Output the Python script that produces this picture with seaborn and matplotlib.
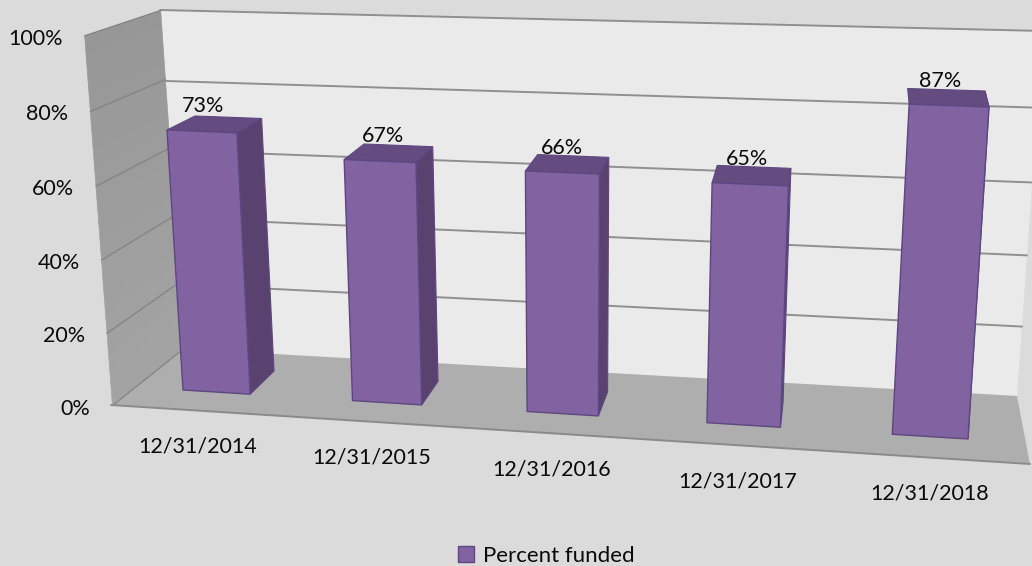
import numpy as np
import pandas as pd
import matplotlib
matplotlib.use("Agg")
import matplotlib.pyplot as plt
import seaborn as sns
from matplotlib.transforms import Transform
from matplotlib.patches import Polygon, Rectangle

# ---- data ----
DATES = ["12/31/2014", "12/31/2015", "12/31/2016", "12/31/2017", "12/31/2018"]
PERCENT_FUNDED = [73, 67, 66, 65, 87]
Z_TICKS = [0, 20, 40, 60, 80, 100]
SERIES = "Percent funded"

# ---- style ----
W, H = 1032, 566
BG, WALL, FLOOR = "#dbdbdb", "#eaeaea", "#aeaeae"
GRID, FACE, TOP, SIDE, EDGE = "#8f8f8f", "#8163a2", "#644c80", "#5a4270", "#5e4780"
BAR_W = 0.40
XMIN, XMAX = -0.5, 4.5
FS = 15.5
LABEL_DX = [1, 3, 0, -3, -9]


# ---- camera: each plane of the 3-D box is a homography onto the picture ----
def homography(world, pixels):
    rows = []
    for (u, v), (x, y) in zip(world, pixels):
        rows.append([u, v, 1, 0, 0, 0, -x * u, -x * v, -x])
        rows.append([0, 0, 0, u, v, 1, -y * u, -y * v, -y])
    A = np.array(rows, float)
    scale = np.abs(A).max(axis=0)
    _, _, vt = np.linalg.svd(A / scale)
    return (vt[-1] / scale).reshape(3, 3)


class Plane(Transform):
    input_dims = output_dims = 2
    is_affine = False
    has_inverse = False

    def __init__(self, world, pixels):
        super().__init__()
        self.m = homography(world, pixels)

    def transform_non_affine(self, values):
        v = np.atleast_2d(np.asarray(values, float))
        q = np.c_[v, np.ones(len(v))] @ self.m.T
        return np.c_[q[:, 0] / q[:, 2], H - q[:, 1] / q[:, 2]]


hw = BAR_W / 2
back_wall = Plane([(XMIN, 100), (XMAX, 100), (XMAX, 0), (XMIN, 0)],
                  [(160, 10), (1043, 31), (1017, 396), (185, 349)])
left_wall = Plane([(0, 0), (0, 40), (0, 80), (0, 100), (1, 0), (1, 40), (1, 80), (1, 100)],
                  [(111, 405), (102, 261), (91, 112), (85, 35),
                   (185, 349), (175, 214), (165, 81), (160, 10)])
floor = Plane([(XMIN, 0), (XMAX, 0), (XMAX, 1), (XMIN, 1)],
              [(111, 405), (1030, 464), (1017, 396), (185, 349)])
date_row = Plane([(0, 0), (2, 0), (4, 0), (0, 1), (4, 1)],
                 [(197.5, 447.5), (551.5, 469), (930, 493), (216.5, 391.5), (929, 436.5)])
bar_front = Plane([(-hw, 0), (4 + hw, 0), (4 + hw, PERCENT_FUNDED[4]), (-hw, PERCENT_FUNDED[0])],
                  [(183, 390), (968, 439), (989, 107), (167, 130)])
bar_back = Plane([(hw, 0), (3 + hw, 0), (4 + hw, PERCENT_FUNDED[4]), (-hw, PERCENT_FUNDED[0])],
                 [(274, 371), (783, 403), (985, 91), (195, 116)])

# ---- figure ----
sns.set_theme(style="white", font="Lato")
plt.rcParams["font.family"] = ["Lato", "DejaVu Sans"]
fig = plt.figure(figsize=(W / 100, H / 100), dpi=100, facecolor=BG)
ax = fig.add_axes([0, 0, 1, 1])
ax.set_facecolor(BG)

df = pd.DataFrame({"date": DATES, "value": PERCENT_FUNDED})
sns.barplot(data=df, x="date", y="value", width=BAR_W, color=FACE, saturation=1,
            label=SERIES, ax=ax, zorder=6, edgecolor=EDGE, linewidth=1)

# box
ax.add_patch(Rectangle((XMIN, 0), XMAX - XMIN, 100, transform=back_wall, fc=WALL, ec="none", zorder=1))
for z0 in range(0, 100, 5):
    shade = str(0.64 - 0.05 * z0 / 100)
    ax.add_patch(Rectangle((0, z0), 1, 5, transform=left_wall, fc=shade, ec=shade, lw=0.5, zorder=2))
ax.add_patch(Rectangle((XMIN, 0), XMAX - XMIN, 1, transform=floor, fc=FLOOR, ec="none", zorder=2))
for z in Z_TICKS:
    if z > 0:
        ax.plot([XMIN, XMAX], [z, z], transform=back_wall, color=GRID, lw=1.4, zorder=3)
    ax.plot([0, 1], [z, z], transform=left_wall, color="#858585", lw=1.0, zorder=3)
ax.plot([XMIN, XMAX], [0, 0], transform=floor, color="#8a8a8a", lw=1.4, zorder=3)

# bars: the front is the seaborn bar itself, the top and the side follow from it
for i, (bar, val) in enumerate(zip(ax.patches, PERCENT_FUNDED)):
    x0, x1, z = bar.get_x(), bar.get_x() + bar.get_width(), bar.get_height()
    bar.set_transform(bar_front)
    bar.set_clip_on(False)
    f = lambda p: bar_front.transform_non_affine([p])[0]
    b = lambda p: bar_back.transform_non_affine([p])[0]
    top = [f((x0, z)), f((x1, z)), b((x1, z)), b((x0, z))]
    side = [f((x1, 0)), f((x1, z)), b((x1, z)), b((x1, 0))]
    ax.add_patch(Polygon(side, closed=True, transform=None, fc=SIDE, ec=EDGE, lw=0.8, zorder=4))
    ax.add_patch(Polygon(top, closed=True, transform=None, fc=TOP, ec=EDGE, lw=0.8, zorder=5))
    ax.annotate(f"{val}%", xy=((x0 + x1) / 2, z), xycoords=bar_front, xytext=(LABEL_DX[i], 25),
                textcoords="offset pixels", ha="center", va="center",
                fontsize=FS, color="#0a0a0a", zorder=8)

# axis texts
for z in Z_TICKS:
    ax.annotate(f"{z}%", xy=(0, z), xycoords=left_wall, xytext=(-22, -3),
                textcoords="offset pixels", ha="right", va="center", fontsize=FS, color="#0a0a0a")
for i, d in enumerate(DATES):
    ax.annotate(d, xy=(i, 0), xycoords=date_row, ha="center", va="center",
                fontsize=FS, color="#0a0a0a")

ax.set_xlim(0, W)
ax.set_ylim(0, H)
ax.axis("off")
ax.legend(loc="center", bbox_to_anchor=(546 / W, 1 - 556 / H), frameon=False, fontsize=16,
          handlelength=0.72, handleheight=0.72, handletextpad=0.4, borderpad=0, labelcolor="#0a0a0a")

fig.savefig("out.png", dpi=100, facecolor=BG)
